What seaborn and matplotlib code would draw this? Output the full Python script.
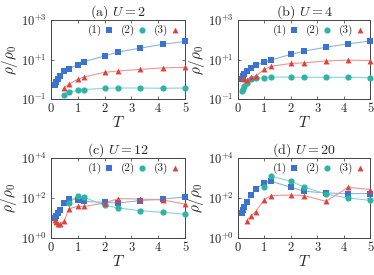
import numpy as np
import pandas as pd
import matplotlib
matplotlib.use('Agg')
import matplotlib.pyplot as plt
import seaborn as sns
from matplotlib.ticker import FixedLocator, FuncFormatter

T = [0.167, 0.2, 0.25, 0.33, 0.5, 0.67, 1.0, 1.25, 2.0, 2.5, 3.33, 4.17, 5.0]

# (a) U = 2
a1 = [0.50, 0.74, 1.07, 1.48, 2.5, 3.4, 5.6, 7.9, 15.1, 24, 38, 59, 83]
a2_T = T[4:]
a2 = [0.166, 0.224, 0.27, 0.30, 0.35, 0.36, 0.36, 0.35, 0.36]
a3_T = T[4:]
a3 = [0.38, 0.56, 1.0, 1.32, 2.24, 2.63, 3.16, 3.8, 4.0]

# (b) U = 4
b1 = [1.07, 1.41, 1.82, 2.5, 3.6, 5.1, 7.6, 9.5, 18.2, 27, 42, 63, 87]
b2 = [0.24, 0.32, 0.45, 0.62, 1.0, 1.15, 1.2, 1.29, 1.29, 1.26, 1.26, 1.26, 1.2]
b3_T = T[1:]
b3 = [1.12, 1.07, 0.93, 1.29, 1.45, 3.16, 4.6, 6.3, 6.8, 8.5, 9.3, 8.9]

# (c) U = 12
c1 = [9.8, 12.9, 17.4, 25.7, 54, 89, 83, 68, 60, 56, 74, 89, 112]
c2_T = T[5:]
c2 = [56, 132, 107, 43, 32, 23, 19, 15.5]
c3 = [8.1, 6.0, 4.7, 4.7, 7.0, 29, 38, 38, 56, 93, 89, 79, 50]

# (d) U = 20
d1 = [17.4, 24.5, 35.5, 66, 135, 282, 575, 692, 347, 219, 178, 166, 166]
d2_T = T[6:]
d2 = [355, 1230, 692, 355, 158, 100, 76]
d3_T = T[3:]
d3 = [7.2, 12.9, 21, 83, 132, 141, 132, 68, 347, 263]

panels = [
    ('(a) $U=2$', [(T, a1), (a2_T, a2), (a3_T, a3)], (-1, 3), [-1, 1, 3]),
    ('(b) $U=4$', [(T, b1), (T, b2), (b3_T, b3)], (-1, 3), [-1, 1, 3]),
    ('(c) $U=12$', [(T, c1), (c2_T, c2), (T, c3)], (0, 4), [0, 2, 4]),
    ('(d) $U=20$', [(T, d1), (d2_T, d2), (d3_T, d3)], (0, 4), [0, 2, 4]),
]

sns.set_style('ticks')
plt.rcParams['font.family'] = 'serif'
plt.rcParams['font.serif'] = ['cmr10', 'DejaVu Serif']
plt.rcParams['mathtext.fontset'] = 'cm'
plt.rcParams['axes.formatter.use_mathtext'] = True

colors = ['#3b73cf', '#2fb3a3', '#e0413c']
lcolors = ['#8fb2e6', '#88d6cc', '#ee9592']
markers = ['s', 'o', '^']
msize = [22, 20, 18]
labels = ['(1)', '(2)', '(3)']

fig = plt.figure(figsize=(3.74, 2.75), dpi=100)
pos = [[0.136, 0.64, 0.359, 0.287], [0.636, 0.64, 0.354, 0.287],
       [0.136, 0.135, 0.359, 0.29], [0.636, 0.135, 0.354, 0.29]]

def fmt(v, p):
    e = int(round(np.log10(v)))
    s = '+' + str(e) if e >= 0 else '-' + str(-e)
    return r'$10^{' + s + '}$'

for i, (title, series, ylim, yt) in enumerate(panels):
    ax = fig.add_axes(pos[i])
    for k, (tx, ry) in enumerate(series):
        df = pd.DataFrame({'T': tx, 'rho': ry})
        sns.lineplot(data=df, x='T', y='rho', ax=ax, color=lcolors[k], lw=0.8, sort=False)
        sns.scatterplot(data=df, x='T', y='rho', ax=ax, color=colors[k], marker=markers[k],
                        s=msize[k], linewidth=0, label=labels[k], clip_on=False, zorder=3)
    ax.set_yscale('log')
    ax.set_xlim(0, 5)
    ax.set_ylim(10.0 ** ylim[0], 10.0 ** ylim[1])
    ax.yaxis.set_major_locator(FixedLocator([10.0 ** e for e in yt]))
    ax.yaxis.set_minor_locator(FixedLocator([]))
    ax.yaxis.set_major_formatter(FuncFormatter(fmt))
    ax.set_xticks([0, 1, 2, 3, 4, 5])
    ax.set_xticklabels(['0', '1', '2', '3', '4', '5'])
    ax.tick_params(direction='in', top=True, right=True, length=2.5, width=0.6,
                   labelsize=9, color='#555555', pad=3)
    for sp in ax.spines.values():
        sp.set_linewidth(0.7)
        sp.set_color('#444444')
    ax.set_title(title, fontsize=10, pad=3)
    ax.set_xlabel('$T$', fontsize=11, labelpad=0)
    ax.set_ylabel(r'$\rho/\rho_0$', fontsize=11, labelpad=1)
    ax.legend(loc='upper right', ncol=3, frameon=False, markerfirst=False, fontsize=8,
              handletextpad=0.1, columnspacing=0.6, borderaxespad=0.2, handlelength=1.0,
              borderpad=0.2)

plt.savefig('out.png', dpi=100)
